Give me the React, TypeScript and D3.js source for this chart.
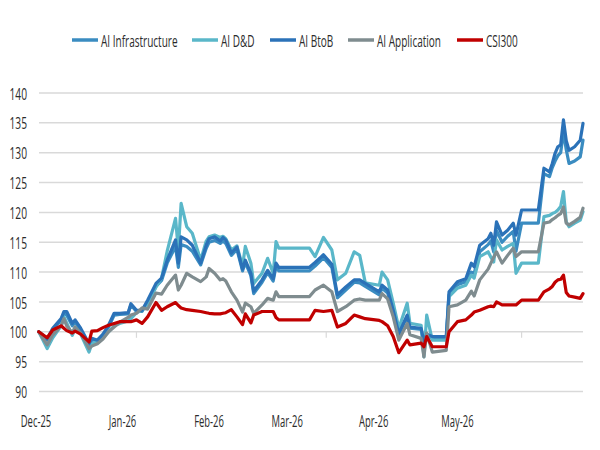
import React from 'react';
import * as d3 from 'd3';

const dates = [
  '2025-12-02','2025-12-05','2025-12-07','2025-12-10','2025-12-11','2025-12-12','2025-12-14','2025-12-15','2025-12-17','2025-12-20',
  '2025-12-21','2025-12-23','2025-12-25','2025-12-27','2025-12-29','2025-12-31','2026-01-03','2026-01-04','2026-01-06','2026-01-08',
  '2026-01-10','2026-01-13','2026-01-15','2026-01-17','2026-01-20','2026-01-21','2026-01-22','2026-01-24','2026-01-26','2026-01-29',
  '2026-01-31','2026-02-01','2026-02-03','2026-02-05','2026-02-06','2026-02-07','2026-02-09','2026-02-11','2026-02-13','2026-02-14',
  '2026-02-16','2026-02-17','2026-02-20','2026-02-22','2026-02-24','2026-02-25','2026-02-26','2026-03-09','2026-03-11','2026-03-14',
  '2026-03-17','2026-03-19','2026-03-22','2026-03-25','2026-03-27','2026-03-29','2026-04-03','2026-04-04','2026-04-06','2026-04-08',
  '2026-04-10','2026-04-13','2026-04-14','2026-04-18','2026-04-19','2026-04-20','2026-04-22','2026-04-27','2026-04-28','2026-05-01',
  '2026-05-04','2026-05-06','2026-05-07','2026-05-09','2026-05-12','2026-05-13','2026-05-14','2026-05-15','2026-05-17','2026-05-19',
  '2026-05-21','2026-05-22','2026-05-24','2026-05-30','2026-06-01','2026-06-03','2026-06-04','2026-06-05','2026-06-06','2026-06-07',
  '2026-06-08','2026-06-09','2026-06-10','2026-06-12','2026-06-14','2026-06-15',
];

const aiInfrastructure = [
  100, 98.6, 100.3, 102.0, 103.0, 102.8, 101.0, 101.6, 100.3, 97.8,
  98.6, 98.6, 99.4, 100.8, 102.8, 102.9, 103.0, 104.5, 103.4, 103.4,
  105.0, 107.6, 108.6, 111.5, 114.3, 110.8, 114.6, 114.3, 113.5, 111.2,
  114.0, 115.0, 115.3, 114.8, 115.2, 114.8, 112.8, 113.8, 110.2, 111.6,
  109.4, 106.4, 108.3, 109.9, 108.5, 111.0, 110.2, 110.2, 111.0, 112.4,
  110.8, 105.7, 107.0, 108.3, 108.2, 107.6, 106.2, 107.3, 106.5, 103.3,
  99.5, 102.6, 100.6, 100.4, 98.0, 99.5, 98.9, 98.9, 106.2, 107.9,
  108.4, 110.0, 109.8, 113.4, 114.6, 115.2, 113.4, 117.0, 115.0, 116.0,
  116.8, 113.5, 118.2, 118.2, 126.5, 126.0, 127.5, 128.6, 129.5, 130.0,
  133.5, 130.5, 128.2, 128.6, 129.3, 132.1,
];

const aiDD = [
  100, 97.2, 99.0, 101.0, 102.5, 101.5, 99.4, 100.5, 99.6, 96.6,
  98.0, 98.3, 99.0, 100.0, 101.0, 101.4, 101.8, 102.2, 103.2, 103.6,
  104.6, 107.5, 109.0, 113.5, 119.0, 113.7, 121.5, 117.6, 116.5, 112.0,
  115.2, 115.9, 116.2, 115.8, 116.0, 115.6, 113.7, 114.4, 111.0, 114.3,
  111.5, 108.1, 109.8, 112.3, 109.8, 115.1, 114.0, 114.0, 112.6, 115.8,
  113.7, 108.7, 109.8, 113.4, 112.8, 108.2, 107.8, 110.0, 108.7, 104.8,
  100.6, 104.8, 101.4, 101.1, 95.8, 102.8, 98.6, 98.6, 105.9, 107.3,
  107.8, 109.5, 109.0, 112.6, 113.4, 112.5, 111.7, 115.4, 113.7, 114.3,
  114.8, 109.8, 111.5, 111.5, 119.3, 119.5, 119.8, 120.0, 120.4, 121.0,
  123.5, 118.4, 117.6, 118.2, 118.7, 120.1,
];

const aiBtoB = [
  100, 98.8, 100.6, 102.2, 103.4, 103.4, 101.4, 102.0, 100.6, 98.0,
  98.9, 98.6, 99.6, 101.1, 103.1, 103.1, 103.2, 104.7, 103.6, 103.6,
  105.3, 108.1, 109.0, 112.0, 115.4, 111.5, 115.9, 115.4, 114.5, 111.5,
  114.5, 115.6, 115.9, 115.2, 115.8, 115.4, 113.2, 114.2, 110.5, 112.0,
  109.8, 106.8, 108.7, 110.3, 108.9, 111.5, 110.8, 110.8, 111.6, 112.9,
  111.3, 106.2, 107.5, 108.7, 108.7, 108.1, 106.7, 107.8, 107.0, 103.6,
  99.7, 102.8, 100.8, 100.6, 98.3, 99.6, 99.2, 99.2, 106.7, 108.4,
  108.9, 111.5, 110.9, 114.5, 115.6, 116.5, 114.5, 118.4, 116.2, 117.0,
  118.2, 116.2, 120.4, 120.4, 127.4, 126.8, 128.2, 129.9, 131.0, 131.3,
  135.5, 132.0, 130.4, 131.0, 132.1, 134.9,
];

const aiApplication = [
  100, 97.8, 99.5, 101.0, 102.2, 101.0, 99.8, 100.8, 99.8, 97.2,
  97.6, 98.0, 98.8, 100.0, 100.8, 101.6, 102.4, 102.8, 103.1, 104.0,
  103.8, 106.5, 106.3, 107.8, 109.5, 107.0, 107.8, 109.8, 109.2, 108.4,
  109.2, 110.6, 109.8, 108.7, 108.9, 108.5, 106.7, 105.3, 103.3, 104.8,
  104.2, 103.1, 104.5, 105.6, 105.3, 106.7, 105.9, 105.9, 107.0, 107.8,
  106.7, 103.4, 104.2, 105.3, 105.5, 105.3, 105.3, 106.4, 105.5, 102.5,
  98.6, 101.4, 99.5, 98.9, 95.8, 99.8, 96.6, 96.9, 104.2, 104.5,
  105.3, 106.8, 106.0, 108.7, 110.5, 111.5, 112.5, 113.4, 111.5, 112.8,
  114.0, 112.6, 113.4, 113.4, 118.2, 118.4, 118.8, 119.1, 119.5, 119.8,
  120.9, 118.2, 117.9, 118.5, 119.2, 120.7,
];

const csi300 = [
  100, 99.0, 100.3, 101.0, 100.6, 100.2, 99.8, 100.1, 99.6, 98.3,
  100.1, 100.2, 100.7, 101.1, 101.4, 101.7, 101.7, 101.7, 102.0, 101.4,
  102.5, 104.9, 103.6, 104.2, 104.9, 104.4, 104.0, 103.7, 103.6, 103.4,
  103.2, 103.1, 103.0, 103.0, 103.1, 103.2, 103.7, 102.5, 101.2, 103.0,
  101.5, 102.8, 103.4, 103.4, 103.4, 102.4, 102.0, 102.0, 103.6, 103.4,
  103.6, 100.8, 101.4, 102.8, 102.5, 102.2, 101.9, 101.7, 101.0, 99.2,
  96.5, 98.6, 97.8, 98.1, 97.5, 99.2, 97.5, 97.5, 100.0, 101.7,
  102.0, 102.8, 103.3, 103.6, 104.2, 104.3, 104.2, 105.0, 104.5, 104.5,
  104.5, 104.5, 105.3, 105.3, 106.7, 107.2, 107.6, 108.3, 108.7, 108.8,
  109.5, 106.6, 106.0, 105.8, 105.6, 106.4,
];

const seriesNames = ['AI Infrastructure', 'AI D&D', 'AI BtoB', 'AI Application', 'CSI300'];
const seriesColors = ['#3a8cc1', '#5ab7c9', '#2b72b8', '#7f8c8f', '#c00000'];
const yTicks = [90, 95, 100, 105, 110, 115, 120, 125, 130, 135, 140];
const xTickLabels = ['Dec-25', 'Jan-26', 'Feb-26', 'Mar-26', 'Apr-26', 'May-26'];
const xTickDates = ['2025-12-01', '2026-01-01', '2026-02-01', '2026-03-01', '2026-04-01', '2026-05-01'];
const axisMarkDates = ['2026-01-06', '2026-03-15', '2026-05-24'];

const parse = d3.utcParse('%Y-%m-%d');

export default function App() {
  const allSeries = [aiInfrastructure, aiDD, aiBtoB, aiApplication, csi300];
  const x = d3
    .scaleUtc()
    .domain([parse('2025-12-01') as Date, parse('2026-06-15') as Date])
    .range([36, 583]);
  const y = d3.scaleLinear().domain([90, 140]).range([391.5, 93]);
  const xDates = dates.map((d) => parse(d) as Date);

  const line = d3
    .line<[Date, number]>()
    .x((d) => x(d[0]))
    .y((d) => y(d[1]));

  const gridLeft = 39;
  const gridRight = 583;
  const sx = 0.62;
  const font = "'Open Sans', sans-serif";
  const textColor = '#2b2b2b';

  const legendX = [72, 192, 270, 348, 457];
  const legendY = 40;

  return (
    <svg
      width={600}
      height={450}
      style={{ position: 'absolute', left: 0, top: 0, background: '#fff' }}
    >
      <rect x={0} y={0} width={600} height={450} fill="#ffffff" />
      {yTicks.map((t) => (
        <line
          key={'g' + t}
          x1={gridLeft}
          x2={gridRight}
          y1={y(t)}
          y2={y(t)}
          stroke="#d9d9d9"
          strokeWidth={1.5}
        />
      ))}
      {axisMarkDates.map((d) => (
        <line
          key={'m' + d}
          x1={x(parse(d) as Date)}
          x2={x(parse(d) as Date)}
          y1={y(100)}
          y2={y(100) + 6}
          stroke="#d9d9d9"
          strokeWidth={1.2}
        />
      ))}
      {yTicks.map((t) => (
        <text
          key={'yl' + t}
          transform={`translate(27,${y(t)}) scale(${sx},1)`}
          textAnchor="end"
          dominantBaseline="central"
          fontFamily={font}
          fontSize={16.5}
          fontWeight={500}
          fill={textColor}
        >
          {t}
        </text>
      ))}
      {xTickDates.map((d, i) => (
        <text
          key={'xl' + d}
          transform={`translate(${x(parse(d) as Date)},421) scale(${sx * 0.95},1)`}
          textAnchor="middle"
          dominantBaseline="central"
          fontFamily={font}
          fontSize={16}
          fontWeight={500}
          fill={textColor}
        >
          {xTickLabels[i]}
        </text>
      ))}
      {allSeries.map((vals, si) => (
        <path
          key={'s' + si}
          d={line(xDates.map((d, i) => [d, vals[i]] as [Date, number])) || ''}
          fill="none"
          stroke={seriesColors[si]}
          strokeWidth={3.2}
          strokeLinejoin="round"
          strokeLinecap="round"
        />
      ))}
      {seriesNames.map((name, i) => (
        <g key={'lg' + i}>
          <line
            x1={legendX[i]}
            x2={legendX[i] + 26}
            y1={legendY}
            y2={legendY}
            stroke={seriesColors[i]}
            strokeWidth={3.5}
          />
          <text
            transform={`translate(${legendX[i] + 29},${legendY}) scale(${sx * 0.98},1)`}
            dominantBaseline="central"
            fontFamily={font}
            fontSize={16.5}
            fontWeight={500}
            fill={textColor}
          >
            {name}
          </text>
        </g>
      ))}
    </svg>
  );
}
